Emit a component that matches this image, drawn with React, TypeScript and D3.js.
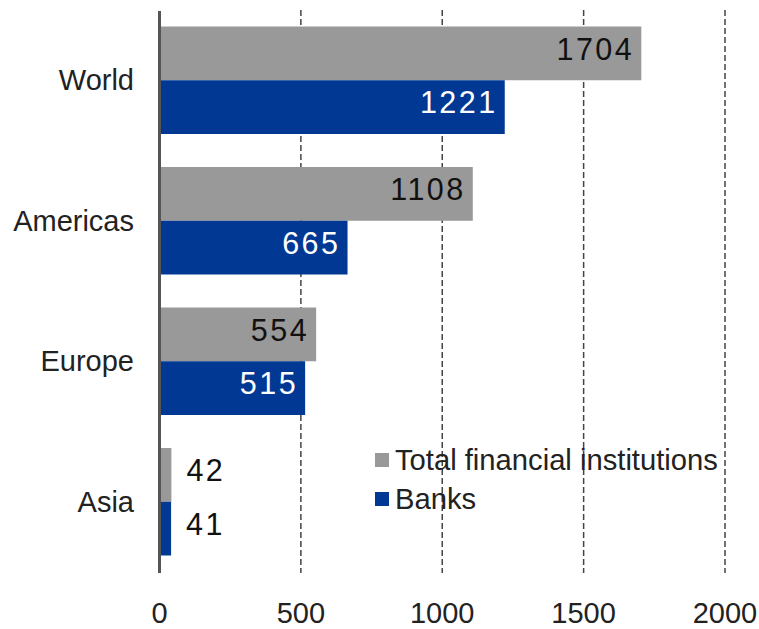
import React, { useEffect, useRef } from 'react';
import * as d3 from 'd3';

const categories = ['World', 'Americas', 'Europe', 'Asia'];
const totalValues = [1704, 1108, 554, 42];
const bankValues = [1221, 665, 515, 41];
const xTicks = [0, 500, 1000, 1500, 2000];
const seriesNames = ['Total financial institutions', 'Banks'];
const seriesColors = ['#999999', '#003893'];

const App: React.FC = () => {
  const svgRef = useRef<SVGSVGElement>(null);

  useEffect(() => {
    if (!svgRef.current) return;
    const width = 759;
    const height = 629;
    const svg = d3.select(svgRef.current).attr('viewBox', `0 0 ${width} ${height}`);
    svg.selectAll('*').remove();

    const font = '"Liberation Sans", Arial, sans-serif';
    const x = d3.scaleLinear().domain([0, 2000]).range([159.5, 725]);
    const y = d3.scaleBand<string>().domain(categories).range([10, 572]).paddingInner(0.235).paddingOuter(0.1175);
    const half = y.bandwidth() / 2;

    // gridlines
    svg.append('g')
      .selectAll('line')
      .data(xTicks.slice(1))
      .enter()
      .append('line')
      .attr('x1', d => x(d)).attr('x2', d => x(d))
      .attr('y1', 10).attr('y2', 573)
      .attr('stroke', '#444')
      .attr('stroke-width', 1.5)
      .attr('stroke-dasharray', '6,3');

    const rows = categories.map((c, i) => ({ c, total: totalValues[i], bank: bankValues[i] }));

    const g = svg.append('g').selectAll('.row').data(rows).enter().append('g').attr('class', 'row');

    g.append('rect')
      .attr('x', x(0))
      .attr('y', d => y(d.c)!)
      .attr('width', d => x(d.total) - x(0))
      .attr('height', half)
      .attr('fill', seriesColors[0]);

    g.append('rect')
      .attr('x', x(0))
      .attr('y', d => y(d.c)! + half)
      .attr('width', d => x(d.bank) - x(0))
      .attr('height', half)
      .attr('fill', seriesColors[1]);

    // value labels
    const addLabel = (key: 'total' | 'bank', offset: number, fill: string) => {
      g.append('text')
        .attr('x', d => (d[key] < 200 ? x(d[key]) + 15 : x(d[key]) - 7))
        .attr('y', d => y(d.c)! + offset + 33)
        .attr('text-anchor', d => (d[key] < 200 ? 'start' : 'end'))
        .attr('font-family', font)
        .attr('font-size', 30.5)
        .attr('letter-spacing', 2.5)
        .attr('fill', d => (d[key] < 200 ? '#111' : fill))
        .text(d => d[key]);
    };
    addLabel('total', 0, '#111');
    addLabel('bank', half, '#fff');

    // category labels
    g.append('text')
      .attr('x', 134)
      .attr('y', d => y(d.c)! + half + 10)
      .attr('text-anchor', 'end')
      .attr('font-family', font)
      .attr('font-size', 29)
      .attr('fill', '#222')
      .text(d => d.c);

    // axis line
    svg.append('line')
      .attr('x1', 159.5).attr('x2', 159.5)
      .attr('y1', 11).attr('y2', 573)
      .attr('stroke', '#555')
      .attr('stroke-width', 3);

    // x tick labels
    svg.append('g')
      .selectAll('text')
      .data(xTicks)
      .enter()
      .append('text')
      .attr('x', d => x(d))
      .attr('y', 623)
      .attr('text-anchor', 'middle')
      .attr('font-family', font)
      .attr('font-size', 29)
      .attr('fill', '#222')
      .text(d => d);

    // legend
    const lg = svg.append('g').selectAll('g').data(seriesNames).enter().append('g');
    lg.append('rect')
      .attr('x', 375)
      .attr('y', (_, i) => 453 + i * 39)
      .attr('width', 14)
      .attr('height', 14)
      .attr('fill', (_, i) => seriesColors[i]);
    lg.append('text')
      .attr('x', 395)
      .attr('y', (_, i) => 469.5 + i * 39)
      .attr('font-family', font)
      .attr('font-size', 29.2)
      .attr('fill', '#222')
      .text(d => d);
  }, []);

  return (
    <svg ref={svgRef} width={759} height={629} style={{ position: 'absolute', left: 0, top: 0, background: '#fff' }} />
  );
};

export default App;
